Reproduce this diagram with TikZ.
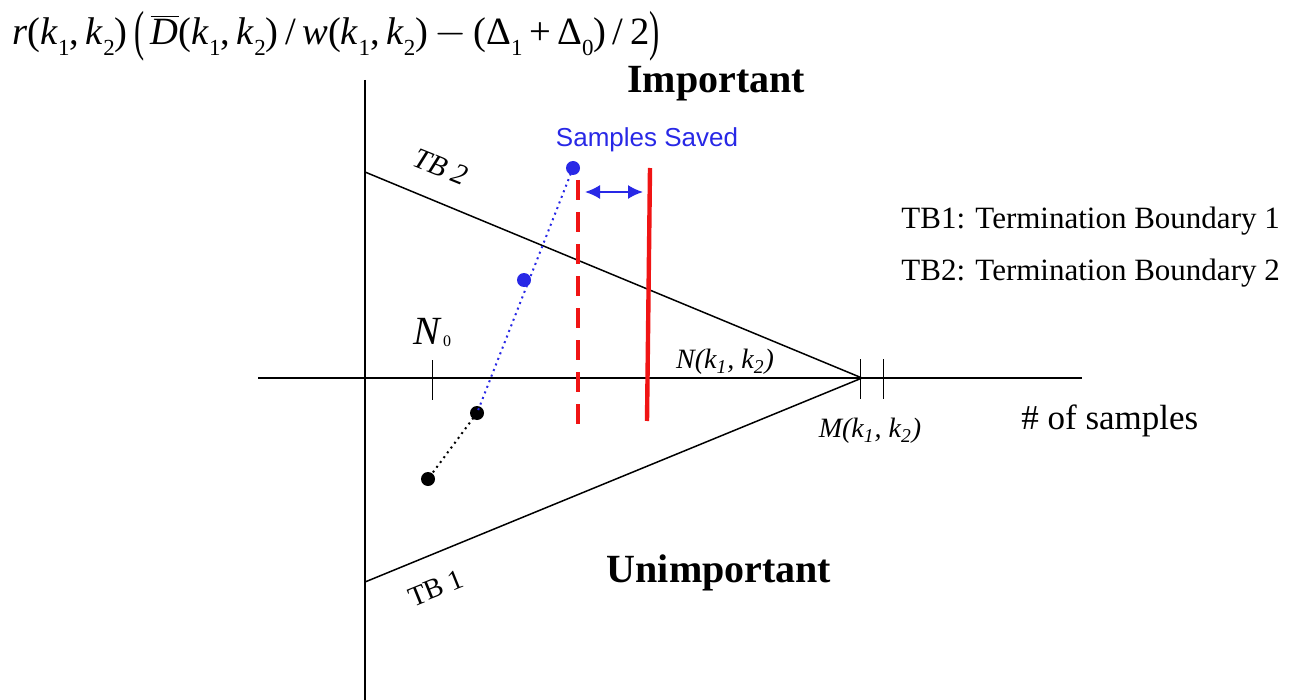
\documentclass[tikz,border=0pt]{standalone}
\usepackage{fontspec}
\setmainfont{Liberation Serif}
\newfontfamily\arialfont{Liberation Sans}
\usetikzlibrary{arrows.meta}
\definecolor{myblue}{RGB}{40,40,230}
\definecolor{myred}{RGB}{240,20,20}
\tikzset{
  axisline/.style={line width=0.75pt},
  bound/.style={line width=0.75pt},
  tickline/.style={line width=0.5pt},
  dotpt/.style={circle,fill,inner sep=0pt,minimum size=7pt},
  lbl/.style={inner sep=0pt},
}
\newcommand{\lowsub}[1]{\raisebox{-0.28em}{\fontsize{11.5}{12}\selectfont #1}}
\newcommand{\tallparen}[1]{\raisebox{-0.12em}{\scalebox{0.8}[1.45]{\fontsize{19}{22}\selectfont #1}}}
\begin{document}
\begin{tikzpicture}[x=0.5pt,y=-0.5pt]
\useasboundingbox (0,0) rectangle (1305,700);
% formula
\node[lbl,anchor=west,font=\fontsize{19.3}{22}\selectfont] (formula) at (12,36)
 {\textit{r}(\textit{k}\lowsub{1},\,\textit{k}\lowsub{2})\,\tallparen{(}\,$\overline{\mbox{\textit{D}}}$(\textit{k}\lowsub{1},\,\textit{k}\lowsub{2})\,/\,\textit{w}(\textit{k}\lowsub{1},\,\textit{k}\lowsub{2})\,$-$\,(Δ\lowsub{1}\,+\,Δ\lowsub{0})\,/\,2\tallparen{)}};
% axes
\coordinate (vtop) at (365,80);
\coordinate (vbot) at (365,700);
\coordinate (hl) at (258,378);
\coordinate (hr) at (1082,378);
\draw[axisline] (vtop) -- (vbot);
\draw[axisline] (hl) -- (hr);
% boundaries
\coordinate (tb2s) at (365,172);
\coordinate (tb1s) at (365,582);
\coordinate (apex) at (862,378);
\draw[bound] (tb2s) -- (apex);
\draw[bound] (tb1s) -- (apex);
% ticks
\coordinate (t0a) at (432,360); \coordinate (t0b) at (432,400);
\coordinate (t1a) at (860,359); \coordinate (t1b) at (860,399);
\coordinate (t2a) at (883,359); \coordinate (t2b) at (883,399);
\draw[tickline] (t0a) -- (t0b);
\draw[tickline] (t1a) -- (t1b);
\draw[tickline] (t2a) -- (t2b);
% red lines
\coordinate (rda) at (578,180); \coordinate (rdb) at (578,428);
\draw[myred,line width=2.2pt,dash pattern=on 10pt off 6pt] (rda) -- (rdb);
\coordinate (rsa) at (650,168); \coordinate (rsb) at (647,421);
\draw[myred,line width=2.2pt] (rsa) -- (rsb);
% arrow
\coordinate (aa) at (585,192); \coordinate (ab) at (643,192);
\draw[myblue,line width=0.9pt,{Latex[length=7.5pt,width=7pt]}-{Latex[length=7.5pt,width=7pt]}] (aa) -- (ab);
% dots
\node[dotpt,fill=myblue] (d1) at (573,168) {};
\node[dotpt,fill=myblue] (d2) at (524,280) {};
\node[dotpt,fill=black] (d3) at (477,413) {};
\node[dotpt,fill=black] (d4) at (428,479) {};
\draw[myblue,line width=1pt,dotted] (d1.center) -- (d3.center);
\draw[black,line width=1pt,dotted] (d3.center) -- (d4.center);
% labels
\node[lbl,myblue,font=\arialfont\fontsize{13}{15}\selectfont] (saved) at (647,140) {Samples Saved};
\node[lbl,font=\bfseries\fontsize{20}{24}\selectfont] (imp) at (716,84) {Important};
\node[lbl,font=\bfseries\fontsize{20}{24}\selectfont] (unimp) at (719,573) {Unimportant};
\node[lbl,rotate=-22,font=\itshape\fontsize{14.5}{17}\selectfont] (tb2lbl) at (441,167) {TB 2};
\node[lbl,rotate=22,font=\fontsize{14}{17}\selectfont] (tb1lbl) at (436,588) {TB 1};
\node[lbl,font=\fontsize{15.5}{18}\selectfont,anchor=west] (leg1) at (901,221) {TB1: Termination Boundary 1};
\node[lbl,font=\fontsize{15.5}{18}\selectfont,anchor=west] (leg2) at (901,273) {TB2: Termination Boundary 2};
\node[lbl,font=\fontsize{17.5}{20}\selectfont,anchor=west] (xlab) at (1021,421) {\# of samples};
\node[lbl,font=\itshape\fontsize{14}{16}\selectfont] (nlbl) at (725,362) {N(k\textsubscript{1}, k\textsubscript{2})};
\node[lbl,font=\itshape\fontsize{14}{16}\selectfont] (mlbl) at (870,431) {M(k\textsubscript{1}, k\textsubscript{2})};
\node[lbl] (n0) at (432,332) {{\fontsize{20}{24}\selectfont\itshape N}\,{\fontsize{8}{10}\selectfont\raisebox{-1pt}{0}}};
\end{tikzpicture}
\end{document}
